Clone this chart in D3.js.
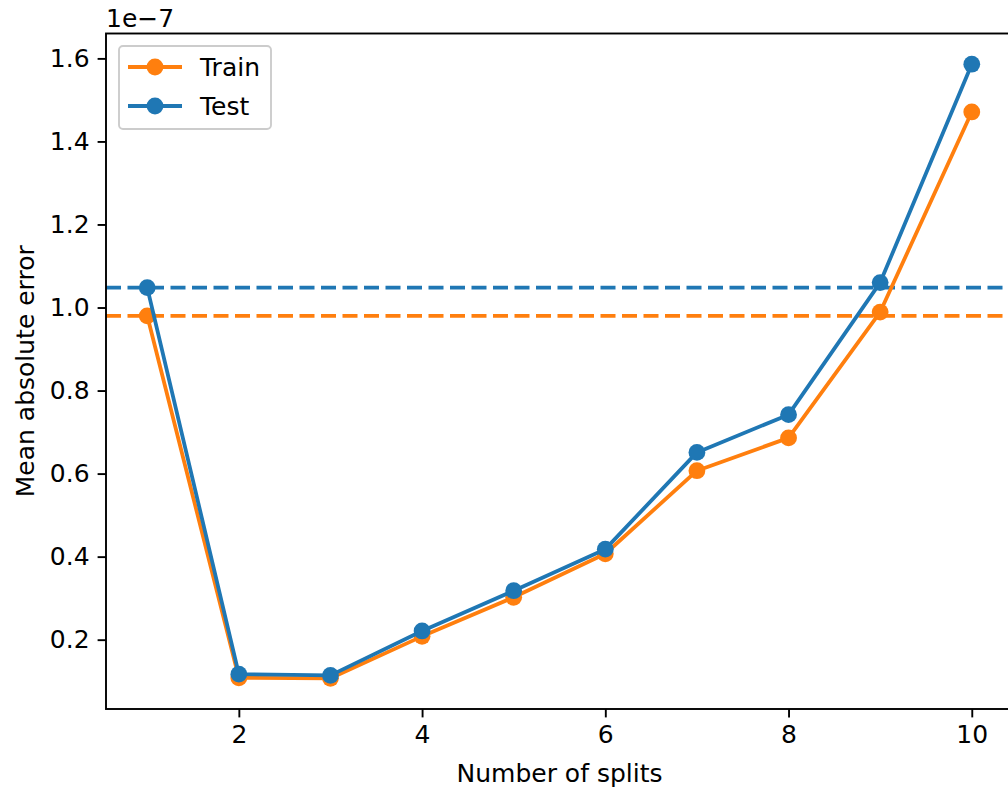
<!DOCTYPE html>
<html>
<head>
<meta charset="utf-8">
<script src="https://cdn.jsdelivr.net/npm/d3@7"></script>
<style>
  body { margin: 0; background: #fff; }
  svg { display: block; font-family: "DejaVu Sans", sans-serif; }
</style>
</head>
<body>
<div id="chart"></div>
<script>
// number of splits on the x axis
const splits = [1, 2, 3, 4, 5, 6, 7, 8, 9, 10];
// mean absolute error, in units of 1e-7
const trainErr = [0.980, 0.108, 0.107, 0.208, 0.302, 0.407, 0.607, 0.686, 0.989, 1.471];
const testErr = [1.048, 0.117, 0.114, 0.221, 0.318, 0.418, 0.651, 0.742, 1.060, 1.586];
const xTicks = [2, 4, 6, 8, 10];
const yTicks = [0.2, 0.4, 0.6, 0.8, 1.0, 1.2, 1.4, 1.6];

const series = [
    {name: 'Train', values: trainErr, color: '#ff7f0e'},
    {name: 'Test', values: testErr, color: '#1f77b4'}
];

const width = 1008, height = 791;
const margin = {left: 106, top: 33.5, right: -5, bottom: 82};
const plotW = width - margin.left - margin.right,
    plotH = height - margin.top - margin.bottom;
const fontSize = 25, lineW = 3.8, dotR = 8.4;

function padExtent(ext) {
    let pad = (ext[1] - ext[0]) * 0.05;
    return [ext[0] - pad, ext[1] + pad];
}

let svg = d3.select('#chart')
    .append('svg')
    .attr('width', width)
    .attr('height', height);

let x = d3.scaleLinear()
    .domain(padExtent(d3.extent(splits)))
    .range([0, plotW]);

let y = d3.scaleLinear()
    .domain(padExtent(d3.extent([...trainErr, ...testErr])))
    .range([plotH, 0]);

let g = svg.append('g')
    .attr('transform', `translate(${margin.left},${margin.top})`);

// Baselines at the first split
let plot = g.append('g');
series.forEach(s => {
    plot.append('line')
        .attr('x1', 0).attr('x2', plotW)
        .attr('y1', y(s.values[0])).attr('y2', y(s.values[0]))
        .attr('stroke', s.color)
        .attr('stroke-width', lineW)
        .attr('stroke-dasharray', '15,6.5');
});

let line = d3.line()
    .x((d, i) => x(splits[i]))
    .y(d => y(d));

series.forEach(s => {
    plot.append('path')
        .datum(s.values)
        .attr('d', line)
        .attr('fill', 'none')
        .attr('stroke', s.color)
        .attr('stroke-width', lineW)
        .attr('stroke-linejoin', 'round');

    plot.selectAll('.dot-' + s.name)
        .data(s.values)
        .enter().append('circle')
        .attr('cx', (d, i) => x(splits[i]))
        .attr('cy', d => y(d))
        .attr('r', dotR)
        .attr('fill', s.color);
});

// Axes
let xAxis = g.append('g')
    .attr('transform', `translate(0,${plotH})`)
    .call(d3.axisBottom(x).tickValues(xTicks).tickSize(8.4).tickPadding(8).tickSizeOuter(0));

let yAxis = g.append('g')
    .call(d3.axisLeft(y).tickValues(yTicks).tickFormat(d3.format('.1f')).tickSize(8.4).tickPadding(8).tickSizeOuter(0));

[xAxis, yAxis].forEach(ax => {
    ax.selectAll('text')
        .attr('font-size', fontSize)
        .attr('font-family', '"DejaVu Sans", sans-serif')
        .attr('fill', '#000');
    ax.selectAll('line').attr('stroke', '#000').attr('stroke-width', 1.9);
    ax.select('.domain').remove();
});

// Spines
g.append('rect')
    .attr('x', 0).attr('y', 0)
    .attr('width', plotW).attr('height', plotH)
    .attr('fill', 'none')
    .attr('stroke', '#000')
    .attr('stroke-width', 1.9);

// Offset text
g.append('text')
    .attr('x', 0).attr('y', -7)
    .attr('font-size', fontSize)
    .text('1e\u22127');

// Axis labels
svg.append('text')
    .attr('x', margin.left + plotW / 2)
    .attr('y', 782)
    .attr('text-anchor', 'middle')
    .attr('font-size', fontSize)
    .text('Number of splits');

svg.append('text')
    .attr('transform', `translate(34,${margin.top + plotH / 2}) rotate(-90)`)
    .attr('text-anchor', 'middle')
    .attr('font-size', fontSize)
    .text('Mean absolute error');

// Legend
let legend = g.append('g')
    .attr('transform', 'translate(13,12.5)');

legend.append('rect')
    .attr('width', 152).attr('height', 83)
    .attr('rx', 4).attr('ry', 4)
    .attr('fill', '#fff').attr('fill-opacity', 0.8)
    .attr('stroke', '#cccccc')
    .attr('stroke-width', 1.9);

series.forEach((s, i) => {
    let row = legend.append('g')
        .attr('transform', `translate(0,${21 + i * 39})`);
    row.append('line')
        .attr('x1', 9).attr('x2', 63)
        .attr('stroke', s.color)
        .attr('stroke-width', lineW);
    row.append('circle')
        .attr('cx', 36).attr('r', dotR)
        .attr('fill', s.color);
    row.append('text')
        .attr('x', 81).attr('y', 9)
        .attr('font-size', fontSize)
        .text(s.name);
});
</script>
</body>
</html>
